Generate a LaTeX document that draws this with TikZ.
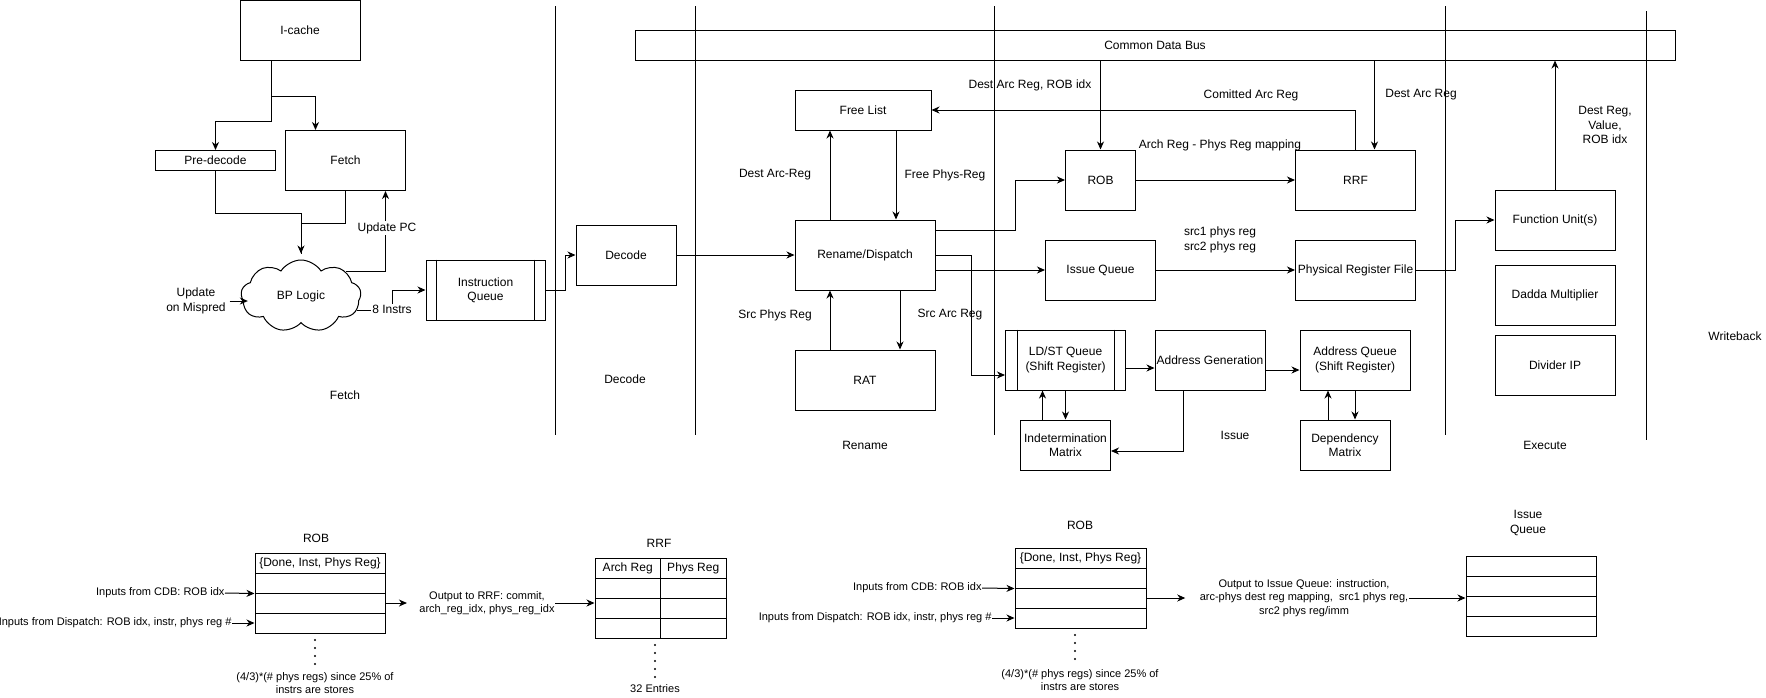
\documentclass[tikz,border=0pt]{standalone}
\usepackage{fontspec}
\setmainfont{Liberation Sans}
\usetikzlibrary{arrows.meta,shapes.symbols}

\begin{document}
\begin{tikzpicture}[x=1pt, y=-1pt, line width=1pt,
    every node/.style={font=\fontsize{12pt}{14.4pt}\selectfont, align=center},
    small/.style={font=\fontsize{11pt}{13.2pt}\selectfont},
    box/.style={draw, inner sep=0pt},
    wh/.style 2 args={minimum width=#1pt, minimum height=#2pt},
    cell/.style={draw, inner sep=0pt, minimum height=20pt},
    arr/.style={-{Stealth[length=8pt,width=7pt,inset=2.5pt]}}]
        \useasboundingbox (0,0) rectangle (1766,697);
        % stage borders
        \foreach \x in {555,695,994,1445}
          \draw (\x,6) -- (\x,435);
        \draw (1646,11) -- (1646,440);
        % fetch
        \node[box, wh={120}{60}] (icache) at (300,30.5) {I-cache};
        \node[box, wh={120}{20}] (predec) at (215.5,160.5) {Pre-decode};
        \node[box, wh={120}{60}] (fetch) at (345.5,160.5) {Fetch};
        \node[draw, cloud, cloud puffs=9, cloud puff arc=115, aspect=1.6, minimum width=120pt,
          minimum height=72pt, inner sep=0pt] (bp) at (301,296) {BP Logic};
        \node[box, wh={119}{60}] (iq) at (485.5,290) {Instruction\\Queue};
        \draw ([xshift=11pt]iq.north west) -- ([xshift=11pt]iq.south west);
        \draw ([xshift=-11pt]iq.north east) -- ([xshift=-11pt]iq.south east);
        \node (mispred) at (196,301) {Update\\on Mispred};
        \draw[arr] ([xshift=-29pt]icache.south) -- ++(0,60) -| (predec.north);
        \draw[arr] ([xshift=-29pt]icache.south) ++(0,35) -| ([xshift=-30pt]fetch.north);
        \draw[arr] (predec.south) -- ++(0,42) -| ([yshift=6pt]bp.north);
        \draw (fetch.south) -- ++(0,32) -| ([yshift=6pt]bp.north);
        \draw[arr] (bp.28) -| ([xshift=40pt]fetch.south);
        \draw[arr] (mispred.east) -- ([xshift=7pt]mispred.east -| bp.west);
        \draw[arr] (bp.-15) -| ([xshift=-33pt]iq.west) -- (iq.west);
        \node[fill=white, inner sep=1pt] (updpc) at (387,228) {Update PC};
        \node[fill=white, inner sep=1pt] (ninstr) at (392,309) {8 Instrs};
        \node (stfetch) at (345,395) {Fetch};
        % decode
        \node[box, wh={100}{60}] (decode) at (626,255) {Decode};
        \draw[arr] (iq.east) -- ++(20,0) |- (decode.west);
        \node (stdecode) at (625,379) {Decode};
        % common data bus
        \node[box, wh={1040}{30}] (cdb) at (1155,45) {Common Data Bus};
        % rename
        \node[box, wh={140}{70}] (rename) at (865,255) {Rename/Dispatch};
        \node[box, wh={136}{40}] (freelist) at (863,110) {Free List};
        \node[box, wh={140}{60}] (rat) at (865,380) {RAT};
        \draw[arr] (decode) -- (rename);
        \draw[arr] ([xshift=-35pt]rename.north) -- ([xshift=-35pt]rename.north |- freelist.south);
        \draw[arr] ([xshift=33pt]freelist.south) -- ([xshift=33pt]freelist.south |- rename.north);
        \draw[arr] ([xshift=-35pt]rat.north) -- ([xshift=-35pt]rat.north |- rename.south);
        \draw[arr] ([xshift=35pt]rename.south) -- ([xshift=35pt]rename.south |- rat.north);
        \node (ldestarc) at (775,175) {Dest Arc-Reg};
        \node (lfreephys) at (945,175) {Free Phys-Reg};
        \node (lsrcphys) at (775,315) {Src Phys Reg};
        \node (lsrcarc) at (950,315) {Src Arc Reg};
        \node (strename) at (865,445) {Rename};
        % issue
        \node[box, wh={70}{60}] (rob) at (1100.5,180) {ROB};
        \node[box, wh={110}{60}] (issueq) at (1100.5,270) {Issue Queue};
        \node[box, wh={120}{60}] (ldst) at (1065.5,360) {LD/ST Queue\\(Shift Register)};
        \draw ([xshift=12pt]ldst.north west) -- ([xshift=12pt]ldst.south west);
        \draw ([xshift=-12pt]ldst.north east) -- ([xshift=-12pt]ldst.south east);
        \node[box, wh={90}{50}] (indet) at (1065.5,445) {Indetermination\\Matrix};
        \node[box, wh={110}{60}] (addrgen) at (1210,360) {Address Generation};
        \node[box, wh={110}{60}] (addrq) at (1355,360) {Address Queue\\(Shift Register)};
        \node[box, wh={90}{50}] (depm) at (1345,445) {Dependency\\Matrix};
        \node[box, wh={120}{60}] (rrf) at (1355.5,180) {RRF};
        \node[box, wh={120}{60}] (prf) at (1355.5,270) {Physical Register File};
        \draw[arr] ([yshift=25pt]rename.east) -- ++(80,0) |- (rob.west);
        \draw[arr] ([yshift=-15pt]rename.east) -- (issueq.west);
        \draw[arr] (rename.east) -- ++(36,0) |- ([yshift=-15pt]ldst.west);
        \draw[arr] (cdb.south -| rob.north) -- (rob.north);
        \draw[arr] (rob) -- (rrf);
        \draw[arr] (rrf.north) |- (freelist.east);
        \draw[arr] ([xshift=19pt]rrf.north |- cdb.south) -- ([xshift=19pt]rrf.north);
        \draw[arr] (issueq) -- (prf);
        \draw[arr] ([yshift=-8pt]ldst.east) -- ([yshift=-8pt]ldst.east -| addrgen.west);
        \draw[arr] ([yshift=-10pt]addrgen.east) -- ([yshift=-10pt]addrgen.east -| addrq.west);
        \draw[arr] ([xshift=-27pt]addrgen.south) |- ([yshift=-6pt]indet.east);
        \draw[arr] ([xshift=-23pt]indet.north) -- ([xshift=-23pt]indet.north |- ldst.south);
        \draw[arr] (ldst.south) -- (indet.north);
        \draw[arr] ([xshift=-17pt]depm.north) -- ([xshift=-17pt]depm.north |- addrq.south);
        \draw[arr] (addrq.south) -- (addrq.south |- depm.north);
        \node (lcdbrob) at (1030,85) {Dest Arc Reg, ROB idx};
        \node (lcommit) at (1251,95) {Comitted Arc Reg};
        \node (lcdbrrf) at (1421,95) {Dest Arc Reg};
        \node (lmapping) at (1220,145) {Arch Reg - Phys Reg mapping};
        \node (lsrcregs) at (1220,240) {src1 phys reg\\src2 phys reg};
        \node (stissue) at (1235,435) {Issue};
        % execute
        \node[box, wh={120}{60}] (fu) at (1555,220) {Function Unit(s)};
        \node[box, wh={120}{60}] (dadda) at (1555,295) {Dadda Multiplier};
        \node[box, wh={120}{60}] (divider) at (1555,365) {Divider IP};
        \draw[arr] (prf.east) -- ++(39,0) |- (fu.west);
        \draw[arr] (fu.north) -- (fu.north |- cdb.south);
        \node (lwrite) at (1605,125) {Dest Reg,\\Value,\\ROB idx};
        \node (stexec) at (1545,445) {Execute};
        \node (stwb) at (1735,336) {Writeback};
        % ROB entries -> RRF
        \node (robtitle) at (316,538) {ROB};
        \node[cell, minimum width=130pt] (robh) at (320,563) {\{Done, Inst, Phys Reg\}};
        \foreach \i in {1,2,3}
          \node[cell, minimum width=130pt] (rob\i) at (320,563+20*\i) {};
        \node[small, anchor=east, inner sep=0pt] (robcdb) at (225,593) {Inputs from CDB: ROB idx};
        \node[small, anchor=east, inner sep=0pt] (robdisp) at (232,623) {Inputs from Dispatch: ROB idx, instr, phys reg \#};
        \draw[arr] (robcdb.east) -- (rob1.south west);
        \draw[arr] (robdisp.east) -- (rob3.west);
        \foreach \y in {640,648,656,664}
          \fill (315,\y) circle (1.2pt);
        \node[small] (robnote) at (315,683) {(4/3)*(\# phys regs) since 25\% of\\instrs are stores};
        \node[small, inner sep=0pt] (outrrf) at (487,603) {Output to RRF: commit,\\arch\_reg\_idx, phys\_reg\_idx};
        \draw[arr] (rob2.east) -- ([xshift=-12pt]outrrf.west);
        \node (rrftitle) at (659,543) {RRF};
        \node[cell, minimum width=65.5pt] (rrfa0) at (627.75,568) {Arch Reg};
        \node[cell, minimum width=65.5pt] (rrfp0) at (693.25,568) {Phys Reg};
        \foreach \i in {1,2,3} {
          \node[cell, minimum width=65.5pt] (rrfa\i) at (627.75,568+20*\i) {};
          \node[cell, minimum width=65.5pt] (rrfp\i) at (693.25,568+20*\i) {};
        }
        \draw[arr] (outrrf.east) -- (outrrf.east -| rrfa2.west);
        \foreach \y in {645,653,661,669,677}
          \fill (655,\y) circle (1.2pt);
        \node[small] (rrfnote) at (655,689) {32 Entries};
        % ROB entries -> issue queue
        \node (robtitle2) at (1080,525) {ROB};
        \node[cell, minimum width=131pt] (robbh) at (1080.5,558) {\{Done, Inst, Phys Reg\}};
        \foreach \i in {1,2,3}
          \node[cell, minimum width=131pt] (robb\i) at (1080.5,558+20*\i) {};
        \node[small, anchor=east, inner sep=0pt] (robbcdb) at (982,588) {Inputs from CDB: ROB idx};
        \node[small, anchor=east, inner sep=0pt] (robbdisp) at (992,618) {Inputs from Dispatch: ROB idx, instr, phys reg \#};
        \draw[arr] (robbcdb.east) -- (robb1.south west);
        \draw[arr] (robbdisp.east) -- (robb3.west);
        \foreach \y in {635,643,651,659}
          \fill (1075,\y) circle (1.2pt);
        \node[small] (robbnote) at (1080,680) {(4/3)*(\# phys regs) since 25\% of\\instrs are stores};
        \node[small, inner sep=0pt] (outiq) at (1304,598) {Output to Issue Queue: instruction,\\arc-phys dest reg mapping,~ src1 phys reg,\\src2 phys reg/imm};
        \draw[arr] (robb2.east) -- ([xshift=-14pt]outiq.west);
        \node (iqtitle) at (1528,523) {Issue\\Queue};
        \foreach \i in {1,...,4}
          \node[cell, minimum width=130pt] (iqt\i) at (1531,546+20*\i) {};
        \draw[arr] (outiq.east) -- (outiq.east -| iqt2.west);
      \end{tikzpicture}
\end{document}
